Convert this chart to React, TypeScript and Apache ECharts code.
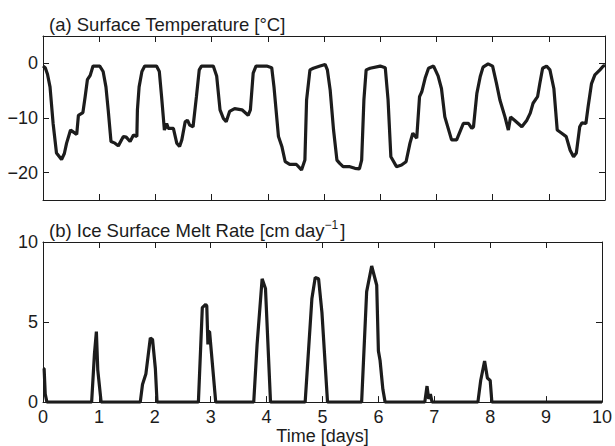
import React, { useEffect, useRef } from "react";
import * as echarts from "echarts";

const tempDays = [0.0,0.04,0.08,0.125,0.18,0.24,0.33,0.38,0.42,0.49,0.53,0.57,0.6,0.63,0.71,0.75,0.79,0.84,0.89,1.01,1.07,1.12,1.16,1.21,1.28,1.34,1.43,1.48,1.55,1.61,1.67,1.68,1.71,1.76,1.81,2.02,2.07,2.11,2.16,2.2,2.23,2.32,2.38,2.43,2.47,2.53,2.57,2.61,2.67,2.73,2.78,2.82,3.03,3.09,3.15,3.21,3.26,3.32,3.41,3.54,3.65,3.69,3.74,3.79,3.98,4.07,4.11,4.19,4.25,4.31,4.39,4.51,4.6,4.66,4.69,4.75,4.81,4.93,5.02,5.06,5.11,5.17,5.23,5.28,5.34,5.46,5.55,5.63,5.67,5.71,5.75,5.82,6.0,6.09,6.14,6.19,6.29,6.38,6.46,6.53,6.58,6.65,6.7,6.74,6.8,6.86,6.95,7.03,7.09,7.15,7.27,7.36,7.42,7.48,7.57,7.63,7.66,7.72,7.78,7.83,7.92,8.0,8.07,8.13,8.22,8.28,8.32,8.39,8.52,8.61,8.67,8.72,8.8,8.84,8.89,8.96,9.02,9.09,9.15,9.23,9.31,9.38,9.44,9.49,9.55,9.59,9.66,9.7,9.76,9.82,9.91,9.97,10.0];
const tempValues = [-0.5,-0.8,-2.0,-4.3,-11.0,-16.4,-17.6,-16.5,-14.6,-12.2,-12.5,-12.8,-13.0,-9.5,-9.0,-6.1,-3.0,-2.2,-0.5,-0.5,-1.5,-4.3,-8.5,-14.3,-14.6,-15.1,-13.4,-13.5,-14.3,-13.1,-13.4,-8.5,-4.3,-1.5,-0.5,-0.5,-1.5,-6.1,-12.2,-11.0,-11.9,-11.9,-14.6,-15.2,-14.0,-10.7,-10.4,-11.3,-11.6,-6.1,-1.2,-0.5,-0.5,-2.3,-8.5,-10.1,-10.7,-8.8,-8.3,-8.5,-9.5,-8.5,-1.8,-0.5,-0.5,-0.8,-4.3,-13.4,-15.2,-18.0,-18.5,-18.5,-19.5,-17.7,-6.7,-1.2,-0.9,-0.5,-0.2,-1.2,-4.9,-12.2,-17.7,-18.3,-18.9,-18.9,-19.2,-19.3,-17.7,-6.7,-1.2,-0.9,-0.5,-0.8,-6.7,-17.1,-18.9,-18.6,-18.0,-14.6,-12.8,-13.7,-6.1,-5.2,-2.7,-0.9,-0.5,-2.3,-4.6,-9.8,-14.0,-14.0,-12.5,-11.0,-11.0,-11.9,-11.6,-5.5,-2.4,-0.7,-0.1,-0.5,-3.7,-6.7,-9.8,-12.2,-9.8,-10.4,-11.6,-10.4,-9.1,-7.3,-6.1,-3.7,-0.9,-0.5,-1.2,-4.6,-12.2,-12.8,-13.4,-15.9,-17.1,-16.4,-11.6,-10.9,-11.0,-7.9,-3.7,-2.1,-1.2,-0.5,-0.4];

const meltDays = [0,0.02,0.04,0.07,0.87,0.92,0.955,0.98,1.04,1.74,1.78,1.84,1.92,1.96,2.01,2.04,2.78,2.85,2.91,2.93,2.95,2.96,2.98,3.09,3.77,3.83,3.92,3.98,4.07,4.69,4.81,4.87,4.93,4.99,5.09,5.7,5.79,5.88,5.97,6.0,6.03,6.08,6.12,6.83,6.87,6.9,6.93,6.96,7.78,7.83,7.9,7.95,8.0,8.03,10];
const meltValues = [2.1,2.1,0.5,0,0,3.0,4.4,2.0,0,0,1.1,1.75,4.0,3.9,2.1,0,0,5.9,6.1,6.0,3.6,4.4,4.4,0,0,3.6,7.7,7.1,0,0,6.45,7.78,7.7,5.6,0,0,6.9,8.5,7.3,3.2,2.6,0.8,0,0,1.0,0.2,0.5,0,0,1.35,2.57,1.5,1.35,0,0];

const xTicks = [0,1,2,3,4,5,6,7,8,9,10];
const tempTicks = [-20,-10,0];
const meltTicks = [0,5,10];

const titleA = "(a) Surface Temperature [\u00b0C]";
const titleB = "(b) Ice Surface Melt Rate [cm day";
const titleBSup = "\u22121";
const titleBEnd = "]";

const FONT = "Liberation Sans, Arial, Helvetica, sans-serif";
const INK = "#1c1c1c";
const FS = 18;
const TFS = 18.5;

function textWidth(s: string, size: number): number {
  const c = document.createElement("canvas").getContext("2d");
  if (!c) return s.length * size * 0.5;
  c.font = `${size}px ${FONT}`;
  return c.measureText(s).width;
}

export default function App() {
  const ref = useRef<HTMLDivElement>(null);
  useEffect(() => {
    if (!ref.current) return;
    const chart = echarts.init(ref.current, null, { renderer: "svg" });
    const axisLine = { show: true, onZero: false, lineStyle: { color: INK, width: 1 } };
    const tick = (vals: number[]) => ({ show: true, inside: true, length: 6, customValues: vals, lineStyle: { color: INK, width: 1 } });
    const lbl = (vals: number[], extra: any = {}) => ({
      show: true, customValues: vals, fontSize: FS, fontFamily: FONT, color: INK,
      formatter: (v: number) => String(v).replace("-", "\u2212"), ...extra,
    });
    const xBase = (gridIndex: number, position: string, showLabel: boolean, extra: any = {}) => ({
      type: "value", gridIndex, position, min: 0, max: 10,
      axisLine, axisTick: tick(xTicks), splitLine: { show: false },
      axisLabel: showLabel ? lbl(xTicks, { margin: 6 }) : { show: false },
      ...extra,
    });
    const yBase = (gridIndex: number, position: string, min: number, max: number, ticks: number[], showLabel: boolean) => ({
      type: "value", gridIndex, position, min, max,
      axisLine, axisTick: tick(ticks), splitLine: { show: false },
      axisLabel: showLabel ? lbl(ticks, { margin: 5 }) : { show: false },
    });
    const bX = 49;
    const wB = textWidth(titleB, TFS);
    const wSup = textWidth(titleBSup, 12);
    chart.setOption({
      animation: false,
      backgroundColor: "#ffffff",
      grid: [
        { left: 43, right: 10, top: 36, height: 164 },
        { left: 43, right: 10, top: 242, height: 163 },
      ],
      xAxis: [
        xBase(0, "bottom", false),
        xBase(0, "top", false),
        xBase(1, "bottom", true, {
          name: "Time [days]", nameLocation: "middle", nameGap: 24,
          nameTextStyle: { fontSize: FS, fontFamily: FONT, color: INK },
        }),
        xBase(1, "top", false),
      ],
      yAxis: [
        yBase(0, "left", -25, 5, tempTicks, true),
        yBase(0, "right", -25, 5, tempTicks, false),
        yBase(1, "left", 0, 10, meltTicks, true),
        yBase(1, "right", 0, 10, meltTicks, false),
      ],
      graphic: [
        {
          type: "text", left: bX, top: 14.5,
          style: { text: titleA, fontSize: TFS, fontFamily: FONT, fill: INK },
        },
        {
          type: "text", left: bX, top: 221,
          style: { text: titleB, fontSize: TFS, fontFamily: FONT, fill: INK },
        },
        {
          type: "text", left: bX + wB, top: 219,
          style: { text: titleBSup, fontSize: 12, fontFamily: FONT, fill: INK },
        },
        {
          type: "text", left: bX + wB + wSup + 2, top: 221,
          style: { text: titleBEnd, fontSize: TFS, fontFamily: FONT, fill: INK },
        },
      ],
      series: [
        {
          type: "line", xAxisIndex: 0, yAxisIndex: 0, showSymbol: false, symbol: "none",
          data: tempDays.map((d, i) => [d, tempValues[i]]),
          lineStyle: { color: INK, width: 3.2 }, clip: true,
        },
        {
          type: "line", xAxisIndex: 2, yAxisIndex: 2, showSymbol: false, symbol: "none",
          data: meltDays.map((d, i) => [d, meltValues[i]]),
          lineStyle: { color: INK, width: 3.2 }, clip: true,
        },
      ],
    });
    return () => chart.dispose();
  }, []);
  return <div ref={ref} style={{ width: 615, height: 446, position: "absolute", left: 0, top: 0 }} />;
}
